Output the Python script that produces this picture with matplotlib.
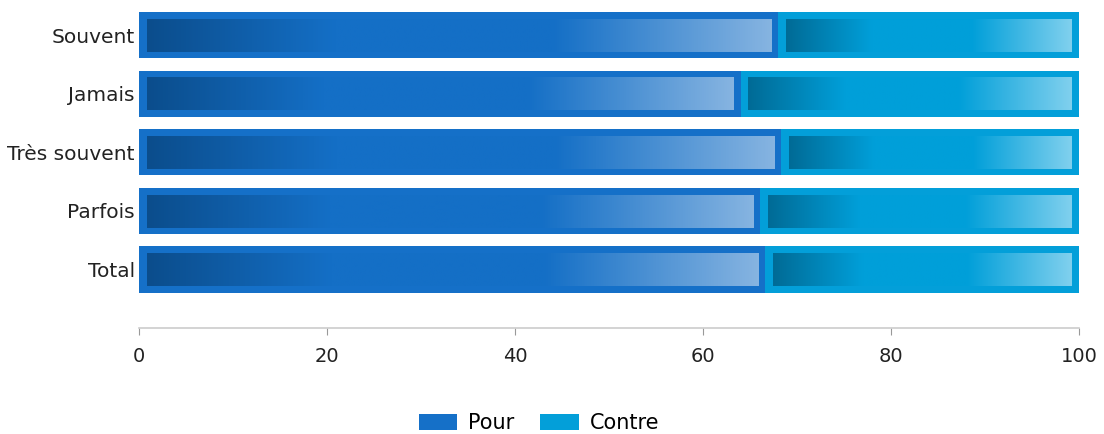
import numpy as np
import matplotlib
matplotlib.use("Agg")
import matplotlib.pyplot as plt
from matplotlib.colors import LinearSegmentedColormap, to_rgb
from matplotlib.patches import Patch

categories = ["Souvent", "Jamais", "Très souvent", "Parfois", "Total"]
pour = [68.0, 64.0, 68.3, 66.1, 66.6]
contre = [100 - v for v in pour]
series_names = ["Pour", "Contre"]
xticks = [0, 20, 40, 60, 80, 100]

base_colors = ["#1570c8", "#039fd9"]
grad_colors = [["#0b4d8c", "#146fc6", "#146fc6", "#86b4e1"],
               ["#006b96", "#009fd9", "#009fd9", "#80d0ee"]]
grad_stops = [0.0, 0.3, 0.65, 1.0]

W, H = 1104, 434
fig = plt.figure(figsize=(W / 100, H / 100), dpi=100)
ax = fig.add_axes([139 / W, (H - 328) / H, (1079 - 139) / W, (328 - 6) / H])

y = np.arange(len(categories))
bar_h = 0.79
ax.set_xlim(0, 100)
ax.set_ylim(5.0, -0.5)

# insets in data units
px_x = 100 / (1079 - 139)
px_y = 5.5 / (328 - 6)
ins_x = 7.5 * px_x
ins_top = 7.5 * px_y
ins_bot = 6.5 * px_y

grad = np.linspace(0, 1, 512).reshape(1, -1)
for s, vals in enumerate([pour, contre]):
    cmap = LinearSegmentedColormap.from_list(
        "g%d" % s, list(zip(grad_stops, [to_rgb(c) for c in grad_colors[s]])))
    lefts = [0] * len(vals) if s == 0 else pour
    ax.barh(y, vals, left=lefts, height=bar_h, color=base_colors[s],
            edgecolor="none", zorder=2)
    for i, (l, v) in enumerate(zip(lefts, vals)):
        x0 = l + ins_x
        x1 = l + v - ins_x
        yt = y[i] - bar_h / 2 + ins_top
        yb = y[i] + bar_h / 2 - ins_bot
        ax.imshow(grad, cmap=cmap, extent=[x0, x1, yb, yt], aspect="auto",
                  interpolation="bilinear", zorder=3)

ax.set_xlim(0, 100)
ax.set_ylim(5.0, -0.5)
ax.set_yticks(y)
ax.set_yticklabels(categories, fontsize=14.5, color="#222222")
ax.set_xticks(xticks)
ax.set_xticklabels([str(t) for t in xticks], fontsize=14, color="#222222")
ax.tick_params(axis="y", length=0, pad=3)
ax.tick_params(axis="x", length=5, color="#999999", pad=9, direction="out")
for sp in ["top", "right", "left"]:
    ax.spines[sp].set_visible(False)
ax.spines["bottom"].set_color("#cccccc")
ax.spines["bottom"].set_linewidth(1.2)

handles = [Patch(facecolor=base_colors[i], edgecolor="none", label=series_names[i])
           for i in range(2)]
fig.legend(handles=handles, loc="center", bbox_to_anchor=(539 / W, 1 - 423 / H),
           ncol=2, frameon=False, fontsize=15, handlelength=1.83, handleheight=0.77,
           columnspacing=1.25, handletextpad=0.53, borderpad=0.2)

fig.savefig("out.png", dpi=100)
